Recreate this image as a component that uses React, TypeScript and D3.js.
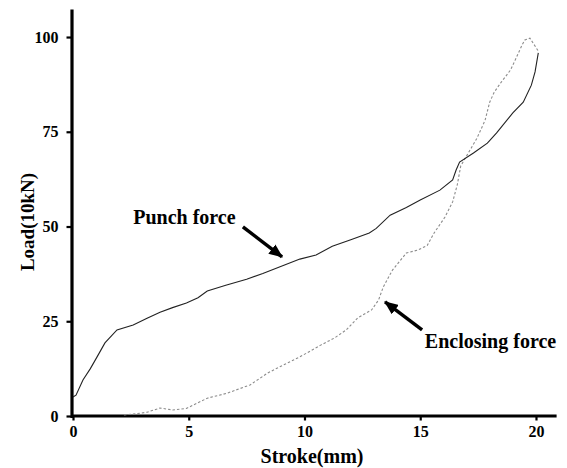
import React, { useRef, useEffect } from 'react';
import * as d3 from 'd3';

// stroke (mm) / load (10kN)
const punchX = [0, 0.13, 0.43, 0.75, 1.04, 1.38, 1.9, 2.6, 3.2, 3.76, 4.3, 4.9, 5.4, 5.8, 6.6, 7.5, 8.2, 9.0, 9.8, 10.5, 11.2, 12.0, 12.8, 13.1, 13.7, 14.4, 15.0, 15.85, 16.4, 16.55, 16.7, 17.3, 17.9, 18.3, 19.0, 19.45, 19.8, 19.96, 20.1];
const punchY = [5, 5.5, 9.5, 12.5, 15.6, 19.3, 22.7, 24, 25.8, 27.4, 28.6, 29.8, 31.2, 33, 34.5, 36.1, 37.6, 39.5, 41.4, 42.5, 44.8, 46.5, 48.3, 49.5, 53, 55, 57, 59.6, 62.3, 64.9, 67, 69.4, 72, 74.7, 80, 82.8, 87.3, 90.8, 95.8];

const enclosingX = [2.2, 2.6, 3.2, 3.76, 4.3, 4.9, 5.8, 6.65, 7.65, 8.4, 8.9, 9.8, 10.7, 11.3, 11.8, 12.3, 12.9, 13.2, 13.4, 13.8, 14.4, 14.9, 15.3, 15.6, 16.07, 16.4, 16.6, 16.75, 17.45, 17.8, 18.0, 18.2, 18.5, 18.9, 19.1, 19.4, 19.52, 19.74, 20.13];
const enclosingY = [0.3, 0.5, 1, 2.1, 1.6, 2, 4.7, 6, 8.2, 11.3, 12.9, 15.6, 18.7, 20.6, 22.7, 25.9, 28, 30.6, 34, 38.5, 43, 43.8, 45, 48.3, 52.5, 56.5, 61, 66, 73.3, 78, 82.8, 85.5, 88.1, 91.3, 93.9, 97.9, 99.2, 99.7, 96];

const xTicks = [0, 5, 10, 15, 20];
const yTicks = [0, 25, 50, 75, 100];

// annotation: label position and arrow (from -> to), in data units
const notes = [
  { text: 'Punch force', lx: 2.6, ly: 50.7, x1: 7.34, y1: 49.9, x2: 9.03, y2: 42 },
  { text: 'Enclosing force', lx: 15.2, ly: 17.9, x1: 15.08, y1: 22.7, x2: 13.48, y2: 30.1 },
];

const W = 567;
const H = 468;
const font = '"Liberation Serif", "Times New Roman", serif';

function App() {
  const svgRef = useRef<SVGSVGElement>(null);

  useEffect(() => {
    const svg = d3.select(svgRef.current);
    svg.selectAll('*').remove();

    const x = d3.scaleLinear().domain([0, 20.8]).range([73, 554.5]);
    const y = d3.scaleLinear().domain([0, 107]).range([416, 10.5]);

    svg.append('defs')
      .append('marker')
      .attr('id', 'head')
      .attr('markerUnits', 'userSpaceOnUse')
      .attr('viewBox', '0 0 12 10')
      .attr('refX', 11)
      .attr('refY', 5)
      .attr('markerWidth', 14)
      .attr('markerHeight', 12)
      .attr('orient', 'auto')
      .append('path')
      .attr('d', 'M0,0 L12,5 L0,10 Z')
      .attr('fill', '#000');

    // axes
    const xAxis = svg.append('g')
      .attr('transform', 'translate(0,415.5)')
      .call(d3.axisBottom(x).tickValues(xTicks).tickSize(5).tickSizeOuter(0).tickPadding(5));
    const yAxis = svg.append('g')
      .attr('transform', 'translate(71.5,0)')
      .call(d3.axisLeft(y).tickValues(yTicks).tickSize(5).tickSizeOuter(0).tickPadding(8));

    [xAxis, yAxis].forEach(g => {
      g.select('.domain').attr('stroke', '#000').attr('stroke-width', 3.2).attr('stroke-linecap', 'square');
      g.selectAll('.tick line').attr('stroke', '#000').attr('stroke-width', 2.2);
      g.selectAll('.tick text')
        .attr('fill', '#000')
        .style('font-family', font)
        .style('font-size', '16px')
        .style('font-weight', 'bold');
    });

    const line = d3.line<number>()
      .x(d => x(d[0]))
      .y(d => y(d[1]));

    const punch = punchX.map((v, i) => [v, punchY[i]]);
    const enclosing = enclosingX.map((v, i) => [v, enclosingY[i]]);

    svg.append('path')
      .datum(enclosing)
      .attr('d', line as any)
      .attr('fill', 'none')
      .attr('stroke', '#8c8c8c')
      .attr('stroke-width', 1.1)
      .attr('stroke-dasharray', '2.5,2');

    svg.append('path')
      .datum(punch)
      .attr('d', line as any)
      .attr('fill', 'none')
      .attr('stroke', '#222')
      .attr('stroke-width', 1.1);

    // annotations
    notes.forEach(n => {
      svg.append('text')
        .attr('x', x(n.lx))
        .attr('y', y(n.ly))
        .text(n.text)
        .style('font-family', font)
        .style('font-size', '20px')
        .style('font-weight', 'bold');
      svg.append('line')
        .attr('x1', x(n.x1)).attr('y1', y(n.y1))
        .attr('x2', x(n.x2)).attr('y2', y(n.y2))
        .attr('stroke', '#000')
        .attr('stroke-width', 3.5)
        .attr('marker-end', 'url(#head)');
    });

    // axis titles
    svg.append('text')
      .attr('x', 312)
      .attr('y', 463)
      .attr('text-anchor', 'middle')
      .text('Stroke(mm)')
      .style('font-family', font)
      .style('font-size', '20px')
      .style('font-weight', 'bold');

    svg.append('text')
      .attr('transform', 'translate(34,222) rotate(-90)')
      .attr('text-anchor', 'middle')
      .text('Load(10kN)')
      .style('font-family', font)
      .style('font-size', '19px')
      .style('font-weight', 'bold');
  }, []);

  return (
    <svg
      ref={svgRef}
      width={W}
      height={H}
      style={{ position: 'absolute', left: 0, top: 0, background: '#fff' }}
    />
  );
}

export default App;
